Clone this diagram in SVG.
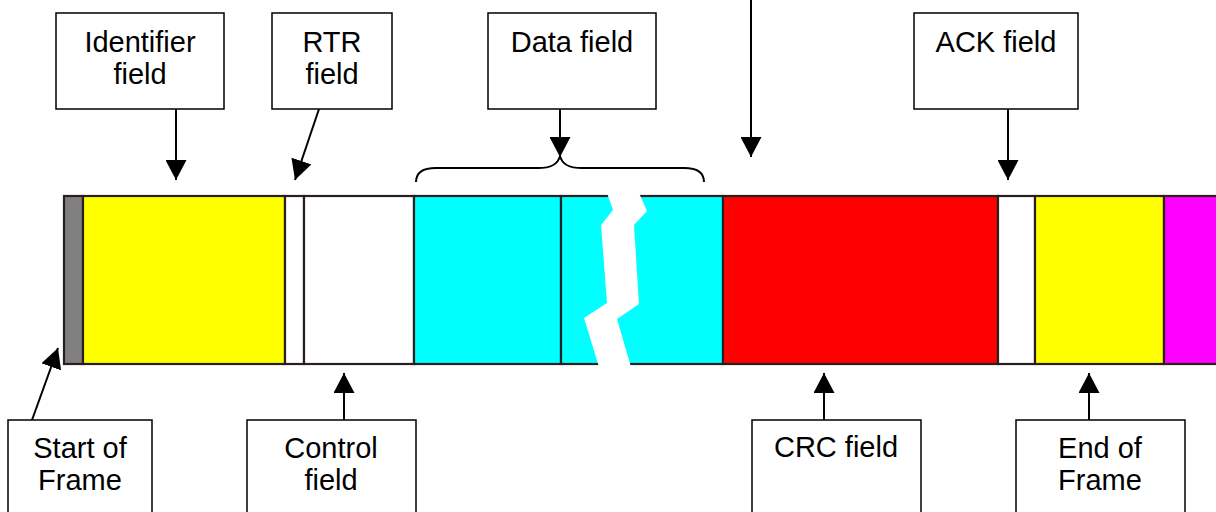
<svg xmlns="http://www.w3.org/2000/svg" width="1216" height="512" viewBox="0 0 1216 512">
<style>
.box{fill:#fff;stroke:#000;stroke-width:1.5}
.lbl{font-family:"Liberation Sans",Arial,sans-serif;font-size:29px;fill:#000;text-anchor:middle}
.seg{stroke:#2a1e1e;stroke-width:2.2}
.conn{stroke:#000;stroke-width:2;fill:none}
</style>
<defs>
<marker id="ah" markerUnits="userSpaceOnUse" markerWidth="21" markerHeight="21" refX="20" refY="10.5" orient="auto" viewBox="0 0 21 21">
<path d="M0,0 L20,10.5 L0,21 z" fill="#000"/>
</marker>
</defs>
<rect width="1216" height="512" fill="#fff"/>
<g id="frame">
<rect class="seg" x="64" y="196" width="19" height="168" fill="#808080"/>
<rect class="seg" x="83" y="196" width="202" height="168" fill="#ffff00"/>
<rect class="seg" x="285" y="196" width="19" height="168" fill="#ffffff"/>
<rect class="seg" x="304" y="196" width="110" height="168" fill="#ffffff"/>
<rect class="seg" x="414" y="196" width="147" height="168" fill="#00ffff"/>
<rect class="seg" x="561" y="196" width="162" height="168" fill="#00ffff"/>
<rect class="seg" x="723" y="196" width="275" height="168" fill="#ff0000"/>
<rect class="seg" x="998" y="196" width="37" height="168" fill="#ffffff"/>
<rect class="seg" x="1035" y="196" width="129" height="168" fill="#ffff00"/>
<rect class="seg" x="1164" y="196" width="60" height="168" fill="#ff00ff"/>
<polygon points="607,193 613,210 601,225 607,303 584,318 599,367 631,367 617,319 639,304 634,225 647,211 639,193" fill="#fff"/>
</g>
<g id="connectors">
<line class="conn" x1="176" y1="109" x2="176" y2="180" marker-end="url(#ah)"/>
<line class="conn" x1="319" y1="109" x2="295" y2="180" marker-end="url(#ah)"/>
<line class="conn" x1="560" y1="109" x2="560" y2="157" marker-end="url(#ah)"/>
<line class="conn" x1="751" y1="-5" x2="751" y2="157" marker-end="url(#ah)"/>
<line class="conn" x1="1008" y1="109" x2="1008" y2="180" marker-end="url(#ah)"/>
<line class="conn" x1="32" y1="420" x2="58" y2="348" marker-end="url(#ah)"/>
<line class="conn" x1="344" y1="420" x2="344" y2="373" marker-end="url(#ah)"/>
<line class="conn" x1="824" y1="420" x2="824" y2="373" marker-end="url(#ah)"/>
<line class="conn" x1="1089" y1="420" x2="1089" y2="373" marker-end="url(#ah)"/>
<path class="conn" d="M416,182 C416,173 422,168 436,168 L538,168 C552,168 558,164 560,156 C562,164 568,168 582,168 L684,168 C698,168 704,173 704,182"/>
</g>
<g id="identifier">
<rect class="box" x="56" y="13" width="168" height="96"/>
<text class="lbl" x="140" y="52">Identifier</text>
<text class="lbl" x="140" y="84">field</text>
</g>
<g id="rtr">
<rect class="box" x="272" y="13" width="120" height="96"/>
<text class="lbl" x="332" y="52">RTR</text>
<text class="lbl" x="332" y="84">field</text>
</g>
<g id="data">
<rect class="box" x="488" y="13" width="168" height="96"/>
<text class="lbl" x="572" y="52">Data field</text>
</g>
<g id="ack">
<rect class="box" x="914" y="13" width="164" height="96"/>
<text class="lbl" x="996" y="52">ACK field</text>
</g>
<g id="sof">
<rect class="box" x="8" y="420" width="144" height="100"/>
<text class="lbl" x="80" y="458">Start of</text>
<text class="lbl" x="80" y="490">Frame</text>
</g>
<g id="control">
<rect class="box" x="247" y="420" width="169" height="100"/>
<text class="lbl" x="331" y="458">Control</text>
<text class="lbl" x="331" y="490">field</text>
</g>
<g id="crc">
<rect class="box" x="752" y="420" width="169" height="100"/>
<text class="lbl" x="836" y="457">CRC field</text>
</g>
<g id="eof">
<rect class="box" x="1016" y="420" width="169" height="100"/>
<text class="lbl" x="1100" y="458">End of</text>
<text class="lbl" x="1100" y="490">Frame</text>
</g>
</svg>
